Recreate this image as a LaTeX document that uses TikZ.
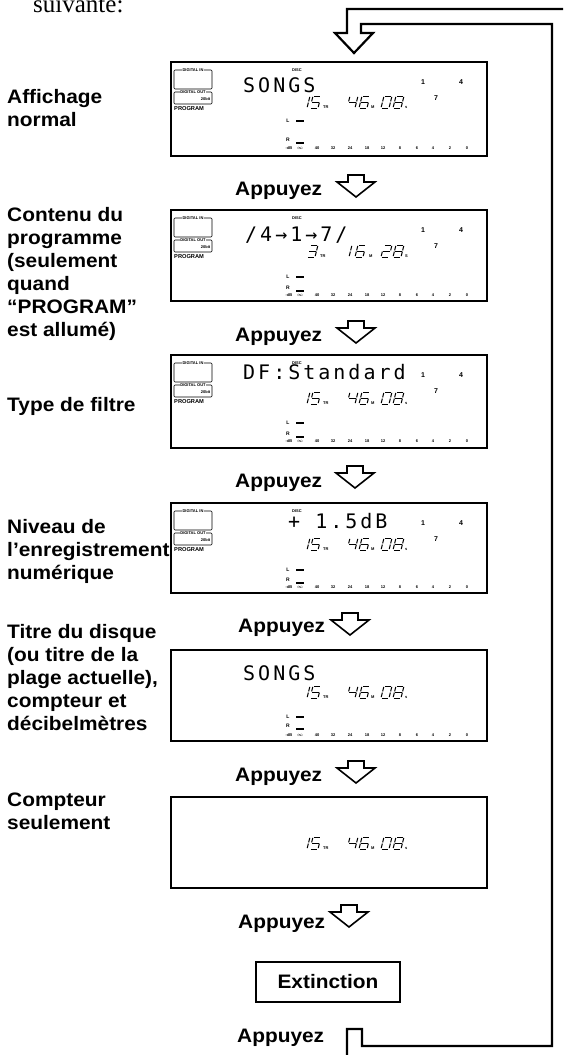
\documentclass[tikz,border=0pt]{standalone}
\usepackage{fontspec}
\setmainfont{Liberation Sans}
\newfontfamily\lblfont[FakeStretch=1.07]{Liberation Sans}
\newfontfamily\lcdfont[LetterSpace=15]{DejaVu Sans Mono}
\newfontfamily\serfont{Liberation Serif}
\tikzset{
  panelbox/.style={draw, line width=1.2pt, inner sep=0},
  lbl/.style={anchor=base west, inner sep=0, font=\lblfont\fontsize{19.5}{23}\selectfont\bfseries},
  appz/.style={anchor=base west, inner sep=0, font=\lblfont\fontsize{19.5}{23}\selectfont\bfseries},
  lcdbig/.style={anchor=base west, inner sep=0, font=\lcdfont\fontsize{20}{20}\selectfont},
  tiny/.style={inner sep=0.6pt, font=\fontsize{4}{4}\selectfont\bfseries},
  tinyl/.style={inner sep=0, anchor=base west, font=\fontsize{4}{4}\selectfont\bfseries},
  prog/.style={inner sep=0, anchor=west, font=\fontsize{5.7}{6}\selectfont\bfseries},
  trk/.style={inner sep=0, font=\fontsize{7}{7}\selectfont\bfseries},
  meterlbl/.style={inner sep=0, font=\fontsize{5}{5}\selectfont\bfseries},
  scl/.style={inner sep=0, font=\fontsize{4}{4}\selectfont\bfseries},
  thinbox/.style={line width=0.6pt, rounded corners=1pt},
  seg/.style={line width=1.0pt},
  band/.style={line width=2.2pt, line join=miter},
  harrow/.style={line width=1.6pt, line join=miter},
  hollowdown/.pic={\draw[harrow] (0,0) -- (-19,-15) -- (-8,-15) -- (-8,-22) -- (8,-22) -- (8,-15) -- (19,-15) -- cycle;},
}
% seven segment digits
\newcommand\sgA{\draw[seg] (0.9,0)--(7.1,0);}
\newcommand\sgB{\draw[seg] (8,0.9)--(8,5.4);}
\newcommand\sgC{\draw[seg] (8,6.6)--(8,11.1);}
\newcommand\sgD{\draw[seg] (0.9,12)--(7.1,12);}
\newcommand\sgE{\draw[seg] (0,6.6)--(0,11.1);}
\newcommand\sgF{\draw[seg] (0,0.9)--(0,5.4);}
\newcommand\sgG{\draw[seg] (0.9,6)--(7.1,6);}
\expandafter\def\csname sdg0\endcsname{\sgA\sgB\sgC\sgD\sgE\sgF}
\expandafter\def\csname sdg1\endcsname{\sgB\sgC}
\expandafter\def\csname sdg2\endcsname{\sgA\sgB\sgG\sgE\sgD}
\expandafter\def\csname sdg3\endcsname{\sgA\sgB\sgG\sgC\sgD}
\expandafter\def\csname sdg4\endcsname{\sgF\sgG\sgB\sgC}
\expandafter\def\csname sdg5\endcsname{\sgA\sgF\sgG\sgC\sgD}
\expandafter\def\csname sdg6\endcsname{\sgA\sgF\sgG\sgE\sgC\sgD}
\expandafter\def\csname sdg8\endcsname{\sgA\sgB\sgC\sgD\sgE\sgF\sgG}
\newcommand\sdig[3]{\begin{scope}[shift={(#1,#2)},xslant=0.25]\csname sdg#3\endcsname\end{scope}}
% time display 15TR 46M 08s
\newcommand\timeA[2]{%
  \sdig{302}{#2}{1}\sdig{313}{#2}{5}\node[tinyl] (#1tr) at (323,#2+12) {TR};
  \sdig{350}{#2}{4}\sdig{362}{#2}{6}\node[tinyl] (#1m) at (371,#2+12) {M};
  \sdig{384}{#2}{0}\sdig{396}{#2}{8}\node[tinyl] (#1s) at (405,#2+12) {s};}
% common LCD indicators
\newcommand\lcdcommon[1]{%
  \draw[thinbox] (174,8) rectangle (212,27);
  \node[tiny, fill=white] (#1din) at (193,8) {DIGITAL IN};
  \draw[thinbox] (174,30) rectangle (212,42);
  \node[tiny, fill=white] (#1dout) at (193,30) {DIGITAL OUT};
  \node[tiny, anchor=east] (#1bit) at (211,37) {20bit};
  \node[prog] (#1prog) at (174,47) {PROGRAM};
  \node[tiny] (#1disc) at (297,8) {DISC};
  \node[trk] (#1ta) at (423,20) {1};
  \node[trk] (#1tb) at (461,20) {4};
  \node[trk] (#1tc) at (436,36) {7};}
% level meter: prefix, L y, R y, scale y
\newcommand\lcdmeter[4]{%
  \node[meterlbl] (#1L) at (288,#2) {L};
  \fill (296,#2-1.3) rectangle (304,#2+1.3);
  \node[meterlbl] (#1R) at (288,#3) {R};
  \fill (296,#3+1.7) rectangle (304,#3+4.3);
  \node[scl] (#1dB) at (289,#4) {-dB};
  \node[scl] (#1inf) at (300,#4) {$\infty$};
  \foreach \v/\xx in {40/317,32/333,24/350,18/367,12/383,8/400,6/417,4/433,2/450,0/467}
    \node[scl] (#1s\v) at (\xx,#4) {\v};}
\begin{document}
\begin{tikzpicture}[x=1pt,y=-1pt]
\path[use as bounding box] (0,0) rectangle (563,1055);
\clip (0,0) rectangle (563,1055);

\node[anchor=base west, inner sep=0, font=\serfont\fontsize{25}{25}\selectfont] (suiv) at (33,12) {suivante:};

% return loop band
\draw[band] (335,33) -- (347,33) -- (347,9) -- (566,9) -- (566,1060) -- (347,1060) -- (347,1029)
  -- (362,1029) -- (362,1046) -- (552,1046) -- (552,24) -- (361,24) -- (361,33) -- (373,33) -- (354,53) -- cycle;

% panels
\node[panelbox, minimum width=316pt, minimum height=94pt] (p1) at (329,109) {};
\node[panelbox, minimum width=316pt, minimum height=91pt] (p2) at (329,255.5) {};
\node[panelbox, minimum width=316pt, minimum height=93pt] (p3) at (329,401.5) {};
\node[panelbox, minimum width=316pt, minimum height=90pt] (p4) at (329,548) {};
\node[panelbox, minimum width=316pt, minimum height=91pt] (p5) at (329,695.5) {};
\node[panelbox, minimum width=316pt, minimum height=91pt] (p6) at (329,842.5) {};

% panel 1
\begin{scope}[shift={(0,62)}]
  \lcdcommon{a}
  \node[lcdbig] (atxt) at (243,30) {SONGS};
  \timeA{a}{34}
  \lcdmeter{a}{59}{78}{86}
\end{scope}
% panel 2
\begin{scope}[shift={(0,210)}]
  \lcdcommon{b}
  \node[lcdbig] (btxt) at (245,31) {/4→1→7/};
  \sdig{310}{35}{3}\node[tinyl] (btr) at (320,47) {TR};
  \sdig{344}{35}{1}\sdig{358}{35}{6}\node[tinyl] (bm) at (369,47) {M};
  \sdig{384}{35}{2}\sdig{396}{35}{8}\node[tinyl] (bs) at (405,47) {S};
  \lcdmeter{b}{67}{78}{85}
\end{scope}
% panel 3
\begin{scope}[shift={(0,355)}]
  \lcdcommon{c}
  \node[lcdbig] (ctxt) at (243,24) {DF:Standard};
  \timeA{c}{37}
  \lcdmeter{c}{68}{79}{86}
\end{scope}
% panel 4
\begin{scope}[shift={(0,503)}]
  \lcdcommon{d}
  \node[lcdbig] (dtxt) at (288,25) {+ 1.5dB};
  \timeA{d}{35}
  \lcdmeter{d}{67}{77}{84}
\end{scope}
% panel 5
\begin{scope}[shift={(0,650)}]
  \node[lcdbig] (etxt) at (243,30) {SONGS};
  \timeA{e}{36}
  \lcdmeter{e}{67}{76}{85}
\end{scope}
% panel 6
\begin{scope}[shift={(0,797)}]
  \timeA{f}{40}
\end{scope}

% left labels
\node[lbl] (l1) at (7,103) {\begin{tabular}[t]{@{}l@{}}Affichage\\normal\end{tabular}};
\node[lbl] (l2) at (7,221) {\begin{tabular}[t]{@{}l@{}}Contenu du\\programme\\(seulement\\quand\\“PROGRAM”\\est allumé)\end{tabular}};
\node[lbl] (l3) at (7,411) {Type de filtre};
\node[lbl] (l4) at (7,533) {\begin{tabular}[t]{@{}l@{}}Niveau de\\l’enregistrement\\numérique\end{tabular}};
\node[lbl] (l5) at (7,638) {\begin{tabular}[t]{@{}l@{}}Titre du disque\\(ou titre de la\\plage actuelle),\\compteur et\\décibelmètres\end{tabular}};
\node[lbl] (l6) at (7,806) {\begin{tabular}[t]{@{}l@{}}Compteur\\seulement\end{tabular}};

% Appuyez steps
\node[appz] (ap1) at (235,195) {Appuyez};
\pic (ar1) at (356,197) {hollowdown};
\node[appz] (ap2) at (235,341) {Appuyez};
\pic (ar2) at (356,343) {hollowdown};
\node[appz] (ap3) at (235,487) {Appuyez};
\pic (ar3) at (355,488) {hollowdown};
\node[appz] (ap4) at (238,632) {Appuyez};
\pic (ar4) at (350,635) {hollowdown};
\node[appz] (ap5) at (235,781) {Appuyez};
\pic (ar5) at (356,783) {hollowdown};
\node[appz] (ap6) at (238,928) {Appuyez};
\pic (ar6) at (349,927) {hollowdown};

\node[draw, line width=1.8pt, minimum width=144pt, minimum height=40pt, inner sep=0,
  font=\lblfont\fontsize{19.5}{23}\selectfont\bfseries] (ext) at (328,982) {Extinction};

\node[appz] (ap7) at (237,1042) {Appuyez};
\end{tikzpicture}
\end{document}
